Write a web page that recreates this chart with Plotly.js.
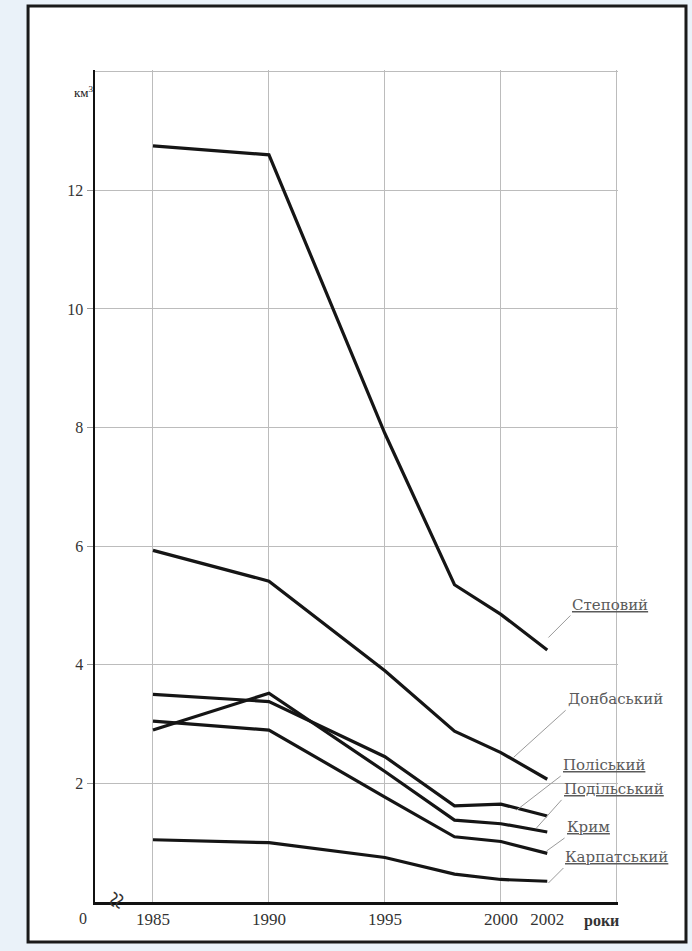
<!DOCTYPE html>
<html>
<head>
<meta charset="utf-8">
<script src="https://cdn.plot.ly/plotly-3.0.1.min.js"></script>
<style>html,body{margin:0;padding:0;background:#eaf2f9;}#chart{width:692px;height:951px;}</style>
</head>
<body>
<div id="chart"></div>
<script>
// ---- data ----
const years = [1985, 1990, 1995, 1998, 2000, 2002];
const stepovyi   = [12.75, 12.6, 7.9, 5.35, 4.85, 4.25];
const donbaskyi  = [5.93, 5.41, 3.9, 2.88, 2.52, 2.07];
const poliskyi   = [3.5, 3.38, 2.45, 1.62, 1.65, 1.45];
const podilskyi  = [2.9, 3.52, 2.2, 1.38, 1.32, 1.18];
const krym       = [3.05, 2.9, 1.77, 1.1, 1.02, 0.82];
const karpatskyi = [1.05, 1.0, 0.75, 0.47, 0.38, 0.35];

const seriesNames = ['Степовий', 'Донбаський', 'Поліський', 'Подільський', 'Крим', 'Карпатський'];
const seriesVals = [stepovyi, donbaskyi, poliskyi, podilskyi, krym, karpatskyi];

const xTickVals = [1985, 1990, 1995, 2000, 2002];
const xTickText = ['1985', '1990', '1995', '2000', '2002'];
const xGridVals = [1985, 1990, 1995, 2000, 2005];
const yTickVals = [2, 4, 6, 8, 10, 12];
const yTickText = ['2', '4', '6', '8', '10', '12'];
const yTopGrid = [14];

// label placement: target point on the series (data) + offset of label corner (px)
const labelTargets = [
  {name: 'Степовий',    x: 2002.05, y: 4.46, ax: 22, ay: -22, u: true},
  {name: 'Донбаський',  x: 2000.55, y: 2.44, ax: 52, ay: -47, u: false},
  {name: 'Поліський',   x: 2000.68, y: 1.55, ax: 44, ay: -34, u: true},
  {name: 'Подільський', x: 2001.54, y: 1.25, ax: 25, ay: -28, u: true},
  {name: 'Крим',        x: 2001.97, y: 0.86, ax: 18, ay: -13, u: true},
  {name: 'Карпатський', x: 2002.05, y: 0.32, ax: 15, ay: -15, u: true}
];

const serif = 'Liberation Serif, DejaVu Serif, Times New Roman, serif';
const wideSerif = 'DejaVu Serif, Liberation Serif, serif';

const traces = seriesVals.map((vals, i) => ({
  type: 'scatter', mode: 'lines', name: seriesNames[i],
  x: years, y: vals,
  line: {color: '#151515', width: 3.2},
  showlegend: false, hoverinfo: 'skip'
}));

const annotations = labelTargets.map(l => ({
  xref: 'x', yref: 'y', x: l.x, y: l.y,
  ax: l.ax, ay: l.ay,
  showarrow: true, arrowhead: 0, arrowwidth: 1, arrowcolor: '#9a9a9a',
  standoff: 0, startstandoff: 0,
  xanchor: 'left', yanchor: 'bottom',
  text: l.u ? '<u>' + l.name + '</u>' : l.name,
  font: {family: wideSerif, size: 15, color: '#5a5a5a'}
}));

annotations.push(
  {xref: 'paper', yref: 'paper', x: -0.044, y: 0.985, showarrow: false,
   text: 'км<sup>3</sup>', font: {family: serif, size: 13, color: '#222'}},
  {xref: 'paper', yref: 'paper', x: 0, y: 0, xshift: -18, yshift: -6, yanchor: 'top', showarrow: false,
   text: '0', font: {family: serif, size: 16, color: '#333'}},
  {xref: 'paper', yref: 'paper', x: 0, y: 0, xshift: 0, yshift: -14, showarrow: false,
   text: '≈', textangle: -70, font: {family: serif, size: 30, color: '#333'}},
  {xref: 'x', yref: 'paper', x: 2003.5, y: 0, xanchor: 'left', yanchor: 'top', yshift: -8, showarrow: false,
   text: '<b>роки</b>', font: {family: serif, size: 16, color: '#333'}}
);

const layout = {
  width: 692, height: 951,
  margin: {l: 95, r: 74, t: 70, b: 49, pad: 0},
  paper_bgcolor: '#eaf2f9',
  plot_bgcolor: 'rgba(0,0,0,0)',
  showlegend: false,
  xaxis: {
    range: [1982.5, 2005.05],
    tickmode: 'array', tickvals: xTickVals, ticktext: xTickText,
    showgrid: false, zeroline: false,
    showline: true, linecolor: '#111', linewidth: 2.5,
    ticks: '', tickfont: {family: serif, size: 17, color: '#333'},
    minor: {tickmode: 'array', tickvals: xGridVals, showgrid: true, gridcolor: '#bcbcbc', gridwidth: 1, ticks: ''}
  },
  yaxis: {
    range: [0, 14.03],
    tickmode: 'array', tickvals: yTickVals, ticktext: yTickText,
    showgrid: true, gridcolor: '#bcbcbc', gridwidth: 1, zeroline: false,
    showline: true, linecolor: '#111', linewidth: 2.5,
    ticks: 'outside', ticklen: 6, tickcolor: '#999', tickwidth: 1,
    tickfont: {family: serif, size: 16, color: '#333'},
    minor: {tickmode: 'array', tickvals: yTopGrid, showgrid: true, gridcolor: '#bcbcbc', gridwidth: 1, ticks: ''}
  },
  shapes: [
    {type: 'rect', xref: 'paper', yref: 'paper', x0: -0.128, x1: 1.130, y0: -0.048, y1: 1.077,
     fillcolor: '#ffffff', line: {color: '#1a1a1a', width: 3}, layer: 'below'}
  ],
  annotations: annotations
};

Plotly.newPlot('chart', traces, layout, {displayModeBar: false, staticPlot: true});
</script>
</body>
</html>
